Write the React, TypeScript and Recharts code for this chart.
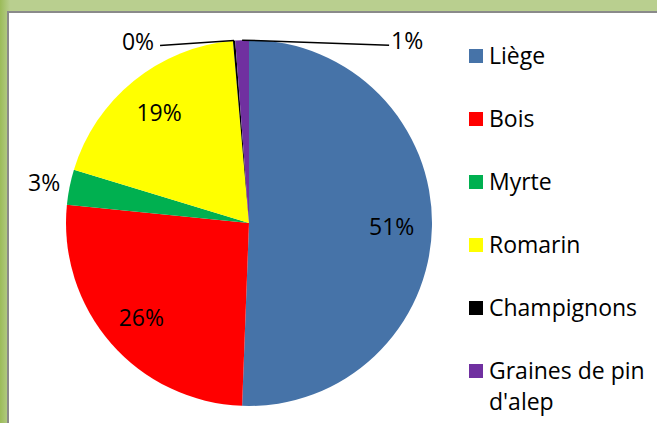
import { PieChart, Pie, Cell, Legend } from 'recharts'

const categories = ['Liège', 'Bois', 'Myrte', 'Romarin', 'Champignons', "Graines de pin d'alep"]
const shares = [50.6, 26.0, 3.1, 18.9, 0.2, 1.2]
const colors = ['#4673a8', '#ff0000', '#00b050', '#ffff00', '#000000', '#7030a0']

const data = categories.map((name, i) => ({ name, value: shares[i] }))

const RAD = Math.PI / 180
const FONT = '"Open Sans", Lato, sans-serif'
const SIZE = 23

function renderLabel(props: any) {
  const { cx, cy, midAngle, outerRadius, percent, index } = props
  const text = `${Math.round(percent * 100)}%`
  const cos = Math.cos(-midAngle * RAD)
  const sin = Math.sin(-midAngle * RAD)
  // petites parts : ligne de rappel horizontale
  if (percent < 0.02) {
    const sx = cx + outerRadius * cos
    const sy = cy + outerRadius * sin
    const left = index === 4
    const ex = left ? sx - 74 : sx + 147
    const ey = sy + 5
    return (
      <g>
        <path d={`M${sx},${sy}L${ex},${ey}`} stroke="#000" strokeWidth={1.5} fill="none" />
        <text
          x={left ? ex - 6 : ex + 2}
          y={sy}
          textAnchor={left ? 'end' : 'start'}
          dominantBaseline="central"
          fontSize={SIZE}
          fontFamily={FONT}
          fill="#000"
        >
          {text}
        </text>
      </g>
    )
  }
  const r = percent < 0.05 ? outerRadius + 26 : outerRadius * 0.78
  return (
    <text
      x={cx + r * cos}
      y={cy + r * sin}
      textAnchor="middle"
      dominantBaseline="central"
      fontSize={SIZE}
      fontFamily={FONT}
      fill="#000"
    >
      {text}
    </text>
  )
}

function renderLegend() {
  return (
    <div style={{ fontFamily: FONT, fontSize: SIZE, color: '#000', width: 190 }}>
      {categories.map((name, i) => (
        <div key={name} style={{ display: 'flex', alignItems: 'flex-start', height: 63, lineHeight: '31px' }}>
          <span
            style={{
              display: 'inline-block',
              width: 14,
              height: 14,
              background: colors[i],
              marginTop: 9,
              marginRight: 6,
              flex: 'none',
            }}
          />
          <span>{name}</span>
        </div>
      ))}
    </div>
  )
}

export default function App() {
  return (
    <div
      style={{
        position: 'absolute',
        left: 0,
        top: 0,
        width: 657,
        height: 423,
        overflow: 'hidden',
        background: 'linear-gradient(90deg, #9bbb59 0px, #b9cf8f 10px, #b9cf8f 100%)',
      }}
    >
      <div
        style={{
          position: 'absolute',
          left: 7,
          top: 11,
          width: 660,
          height: 420,
          background: '#fff',
          border: '2px solid #8a8a8a',
        }}
      >
        <PieChart width={660} height={420}>
          <Pie
            data={data}
            dataKey="value"
            nameKey="name"
            cx={235}
            cy={205}
            outerRadius={183}
            startAngle={90}
            endAngle={-270}
            stroke="none"
            label={renderLabel}
            labelLine={false}
            isAnimationActive={false}
          >
            {data.map((d, i) => (
              <Cell key={d.name} fill={colors[i]} />
            ))}
          </Pie>
          <Legend
            layout="vertical"
            align="right"
            verticalAlign="top"
            content={renderLegend}
            wrapperStyle={{ left: 460, top: 27, width: 200 }}
          />
        </PieChart>
      </div>
    </div>
  )
}
